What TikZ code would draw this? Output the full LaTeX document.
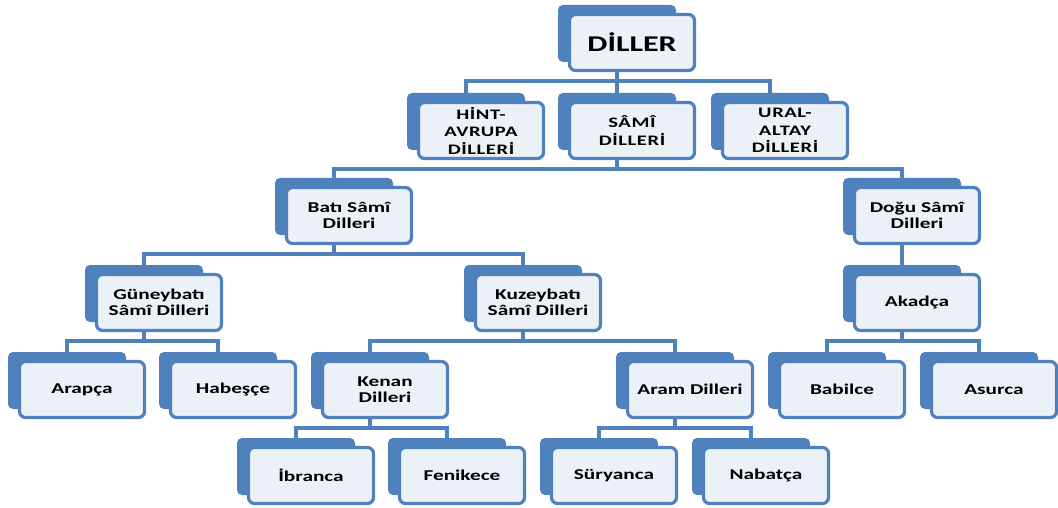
\documentclass[tikz,border=0pt]{standalone}
\usepackage{fontspec}
\setmainfont{Carlito}[FakeStretch=1.42]
\usetikzlibrary{backgrounds}

\definecolor{kutumavi}{RGB}{79,129,189}
\definecolor{kutuic}{RGB}{236,241,248}

\tikzset{
  arka/.style={rectangle,rounded corners=5pt,fill=kutumavi,minimum width=118pt,minimum height=57pt,inner sep=0pt},
  onkutu/.style={rectangle,rounded corners=6pt,draw=kutumavi,line width=3.2pt,fill=kutuic,
    minimum width=125pt,minimum height=56pt,inner sep=0pt,align=center,
    font=\bfseries\fontsize{15}{16.5}\selectfont},
  baglanti/.style={draw=kutumavi,line width=3.6pt},
  buyuk/.style={font=\bfseries\fontsize{22.5}{26}\selectfont},
  ust/.style={font=\bfseries\fontsize{14.5}{17.5}\selectfont\addfontfeatures{LetterSpace=4}},
}

% back box (name) + front box (name-f)
\newcommand{\dilkutu}[4][]{%
  \node[arka] (#2) at (#3) {};
  \node[onkutu,#1] (#2-f) at ([shift={(15,9)}]#2) {#4};
}

\begin{document}
\begin{tikzpicture}[x=1pt,y=-1pt]
    \useasboundingbox (0,0) rectangle (1058,508);

    % Root
    \dilkutu[buyuk]{diller}{617,33.5}{DİLLER}

    % Language families
    \dilkutu[ust]{hint}{466,121.5}{HİNT-\\AVRUPA\\DİLLERİ}
    \dilkutu[ust]{sami}{617,121.5}{SÂMÎ\\DİLLERİ}
    \dilkutu[ust]{ural}{770,121.5}{URAL-\\ALTAY\\DİLLERİ}

    % Semitic branches
    \dilkutu{bati}{334,206.5}{Batı Sâmî\\Dilleri}
    \dilkutu{dogu}{902,206.5}{Doğu Sâmî\\Dilleri}
    \dilkutu{guney}{144,293.5}{Güneybatı\\Sâmî Dilleri}
    \dilkutu{kuzey}{523,293.5}{Kuzeybatı\\Sâmî Dilleri}
    \dilkutu{akad}{902,293.5}{Akadça}

    % Languages
    \dilkutu{arap}{67,380.5}{Arapça}
    \dilkutu{habes}{218,380.5}{Habeşçe}
    \dilkutu{kenan}{370,380.5}{Kenan\\Dilleri}
    \dilkutu{aram}{675,380.5}{Aram Dilleri}
    \dilkutu{babil}{827,380.5}{Babilce}
    \dilkutu{asur}{979,380.5}{Asurca}
    \dilkutu{ibra}{296,466.5}{İbranca}
    \dilkutu{fenik}{447,466.5}{Fenikece}
    \dilkutu{surya}{599,466.5}{Süryanca}
    \dilkutu{nabat}{751,466.5}{Nabatça}

    % Connectors
    \begin{scope}[on background layer]
        \foreach \c in {hint,sami,ural} \draw[baglanti] (diller) -- ++(0,47.5) -| (\c);
        \foreach \c in {bati,dogu} \draw[baglanti] (sami) -- ++(0,47.5) -| (\c);
        \foreach \c in {guney,kuzey} \draw[baglanti] (bati) -- ++(0,47.5) -| (\c);
        \draw[baglanti] (dogu) -- (akad);
        \foreach \c in {arap,habes} \draw[baglanti] (guney) -- ++(0,47.5) -| (\c);
        \foreach \c in {kenan,aram} \draw[baglanti] (kuzey) -- ++(0,47.5) -| (\c);
        \foreach \c in {babil,asur} \draw[baglanti] (akad) -- ++(0,47.5) -| (\c);
        \foreach \c in {ibra,fenik} \draw[baglanti] (kenan) -- ++(0,47.5) -| (\c);
        \foreach \c in {surya,nabat} \draw[baglanti] (aram) -- ++(0,47.5) -| (\c);
    \end{scope}
\end{tikzpicture}
\end{document}
